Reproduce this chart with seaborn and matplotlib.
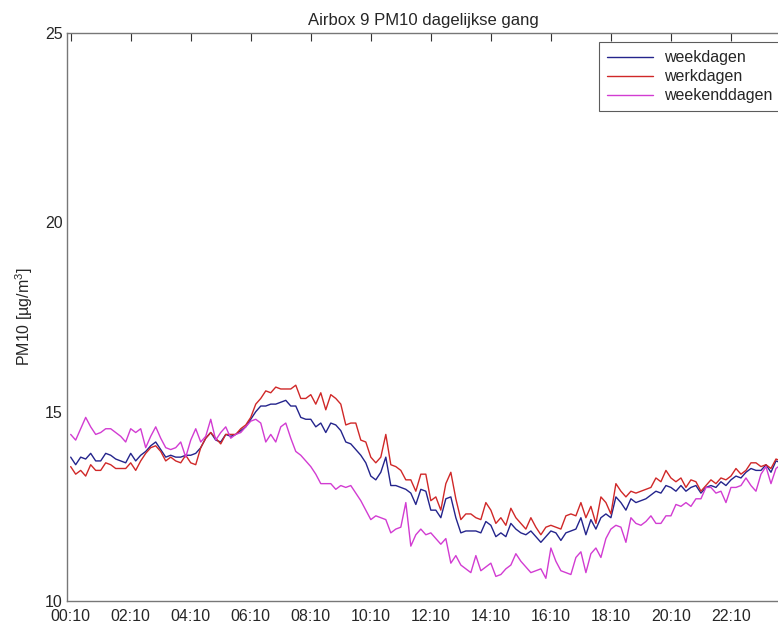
import pandas as pd
import matplotlib
matplotlib.use("Agg")
import matplotlib.pyplot as plt
import seaborn as sns

sns.set_style("white")
plt.rcParams["font.family"] = ["Liberation Sans", "DejaVu Sans"]
plt.rcParams["mathtext.default"] = "regular"

# 10-minuten gemiddelden, 00:10 .. 24:00
weekdagen = [
    13.8, 13.6, 13.8, 13.75, 13.9, 13.7, 13.7, 13.9, 13.85, 13.75, 13.7, 13.65,
    13.9, 13.7, 13.85, 13.95, 14.1, 14.2, 14.0, 13.8, 13.85, 13.8, 13.8, 13.85,
    13.85, 13.9, 14.05, 14.3, 14.45, 14.25, 14.2, 14.4, 14.35, 14.4, 14.5, 14.6,
    14.8, 15.0, 15.15, 15.15, 15.2, 15.2, 15.25, 15.3, 15.15, 15.15, 14.85, 14.8,
    14.8, 14.6, 14.7, 14.45, 14.7, 14.65, 14.5, 14.2, 14.15, 14.0, 13.85, 13.65,
    13.3, 13.2, 13.4, 13.8, 13.05, 13.05, 13.0, 12.95, 12.85, 12.55, 12.95, 12.9,
    12.4, 12.4, 12.2, 12.7, 12.75, 12.2, 11.8, 11.85, 11.85, 11.85, 11.8, 12.1,
    12.0, 11.7, 11.8, 11.7, 12.05, 11.9, 11.8, 11.75, 11.85, 11.7, 11.55, 11.7,
    11.85, 11.8, 11.6, 11.8, 11.85, 11.9, 12.2, 11.75, 12.15, 11.9, 12.2, 12.3,
    12.2, 12.75, 12.6, 12.4, 12.7, 12.6, 12.65, 12.7, 12.8, 12.9, 12.85, 13.05,
    13.0, 12.9, 13.05, 12.9, 13.0, 13.05, 12.85, 13.0, 13.05, 13.0, 13.15, 13.05,
    13.2, 13.3, 13.25, 13.4, 13.5, 13.45, 13.45, 13.6, 13.4, 13.7, 13.65, 13.7,
]
werkdagen = [
    13.55, 13.35, 13.45, 13.3, 13.6, 13.45, 13.45, 13.65, 13.6, 13.5, 13.5, 13.5,
    13.65, 13.45, 13.7, 13.9, 14.05, 14.1, 13.95, 13.7, 13.8, 13.7, 13.65, 13.85,
    13.65, 13.6, 14.05, 14.3, 14.45, 14.3, 14.15, 14.4, 14.4, 14.4, 14.55, 14.65,
    14.85, 15.2, 15.35, 15.55, 15.5, 15.65, 15.6, 15.6, 15.6, 15.7, 15.35, 15.35,
    15.45, 15.2, 15.5, 15.05, 15.45, 15.35, 15.2, 14.65, 14.7, 14.7, 14.25, 14.2,
    13.8, 13.65, 13.8, 14.4, 13.6, 13.55, 13.45, 13.2, 13.2, 12.9, 13.35, 13.35,
    12.65, 12.75, 12.4, 13.1, 13.4, 12.7, 12.15, 12.3, 12.3, 12.2, 12.15, 12.6,
    12.4, 12.05, 12.2, 12.0, 12.45, 12.2, 12.05, 11.9, 12.2, 11.95, 11.75, 11.95,
    12.0, 11.95, 11.9, 12.25, 12.3, 12.25, 12.6, 12.2, 12.5, 12.05, 12.75, 12.6,
    12.3, 13.1, 12.9, 12.75, 12.9, 12.85, 12.9, 12.95, 13.0, 13.25, 13.15, 13.45,
    13.25, 13.15, 13.25, 13.0, 13.2, 13.15, 12.9, 13.05, 13.2, 13.1, 13.25, 13.2,
    13.3, 13.5, 13.35, 13.45, 13.65, 13.65, 13.55, 13.6, 13.5, 13.75, 13.7, 13.75,
]
weekenddagen = [
    14.4, 14.25, 14.55, 14.85, 14.6, 14.4, 14.45, 14.55, 14.55, 14.45, 14.35, 14.2,
    14.55, 14.45, 14.55, 14.05, 14.35, 14.6, 14.3, 14.05, 14.0, 14.05, 14.2, 13.8,
    14.25, 14.55, 14.2, 14.35, 14.8, 14.25, 14.45, 14.6, 14.3, 14.4, 14.45, 14.6,
    14.75, 14.8, 14.7, 14.2, 14.4, 14.2, 14.6, 14.7, 14.3, 13.95, 13.85, 13.7,
    13.55, 13.35, 13.1, 13.1, 13.1, 12.95, 13.05, 13.0, 13.05, 12.85, 12.65, 12.4,
    12.15, 12.25, 12.2, 12.15, 11.8, 11.9, 11.95, 12.6, 11.45, 11.75, 11.9, 11.75,
    11.8, 11.65, 11.5, 11.65, 11.0, 11.2, 10.95, 10.85, 10.75, 11.2, 10.8, 10.9,
    11.0, 10.65, 10.7, 10.85, 10.95, 11.25, 11.05, 10.9, 10.75, 10.8, 10.85, 10.6,
    11.4, 11.05, 10.8, 10.75, 10.7, 11.15, 11.3, 10.75, 11.25, 11.4, 11.15, 11.65,
    11.9, 12.0, 11.95, 11.55, 12.2, 12.05, 12.0, 12.1, 12.25, 12.05, 12.05, 12.25,
    12.25, 12.55, 12.5, 12.6, 12.5, 12.7, 12.7, 13.0, 13.0, 12.85, 12.9, 12.6,
    13.0, 13.0, 13.05, 13.25, 13.05, 12.9, 13.35, 13.55, 13.1, 13.5, 13.6, 13.65,
]
tijd_labels = ["00:10", "02:10", "04:10", "06:10", "08:10", "10:10",
               "12:10", "14:10", "16:10", "18:10", "20:10", "22:10"]
tijd_posities = [0, 12, 24, 36, 48, 60, 72, 84, 96, 108, 120, 132]
reeksen = ["weekdagen", "werkdagen", "weekenddagen"]
kleuren = {"weekdagen": "#24248c", "werkdagen": "#d02828", "weekenddagen": "#d23cd2"}

df = pd.concat([
    pd.DataFrame({"t": range(len(v)), "pm10": v, "reeks": naam})
    for naam, v in zip(reeksen, [weekdagen, werkdagen, weekenddagen])
], ignore_index=True)

fig = plt.figure(figsize=(7.78, 6.26), dpi=100)
# rechterkant van de assen valt buiten het beeld, zoals in het origineel
ax = fig.add_axes([0.0857, 0.0399, 0.9297, 0.9073])
sns.lineplot(data=df, x="t", y="pm10", hue="reeks", hue_order=reeksen,
             palette=kleuren, linewidth=1.0, ax=ax)

ax.set_xlim(-0.8, 143.8)
ax.set_ylim(10, 25)
ax.set_xticks(tijd_posities)
ax.set_xticklabels(tijd_labels)
ax.set_yticks([10, 15, 20, 25])
ax.tick_params(direction="in", top=True, right=True, length=6, width=0.8,
               color="#333333", labelsize=11.5, pad=3)
ax.tick_params(axis="x", pad=5.5)
for s in ax.spines.values():
    s.set_color("#777777")
    s.set_linewidth(1.0)

ax.set_xlabel("")
ax.set_ylabel("PM10 [µg/m$^3$]", fontsize=11.5, labelpad=7)
ax.set_title("Airbox 9 PM10 dagelijkse gang", fontsize=12, pad=6, x=0.493)

leg = ax.legend(loc="upper left", bbox_to_anchor=(0.736, 0.984), frameon=True,
                fancybox=False, edgecolor="#333333", fontsize=11.5,
                handlelength=2.9, handletextpad=0.7, labelspacing=0.26,
                borderpad=0.5, borderaxespad=0)
leg.get_frame().set_linewidth(0.8)

fig.savefig("out.png", dpi=100)
